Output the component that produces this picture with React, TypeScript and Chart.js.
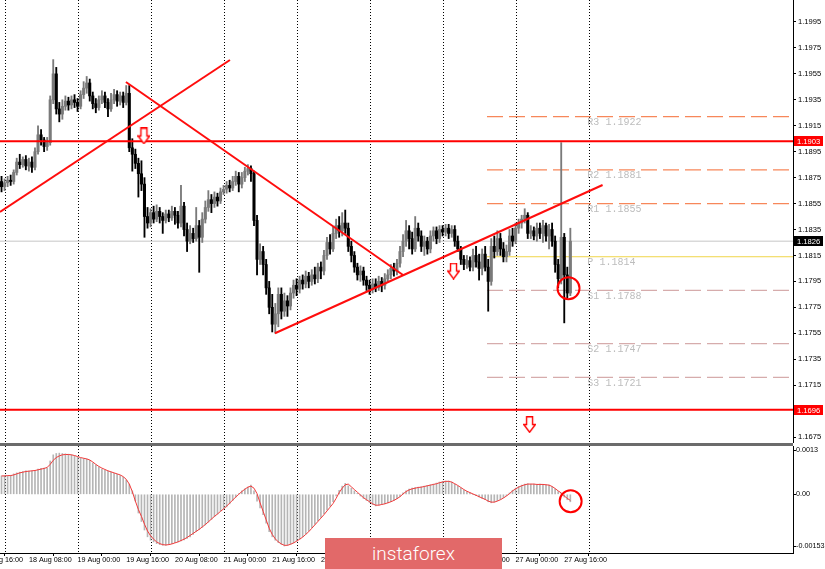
import { useEffect, useRef } from "react";
import { Chart, registerables } from "chart.js";
Chart.register(...registerables);

// ---------- DATA (EURUSD H1, 17 Aug 23:00 -> 27 Aug 18:00) ----------
const opens = [
  1.1872,1.1868,1.1871,1.1873,1.1872,1.1879,1.1887,1.1885,1.1889,1.1884,
  1.1887,1.1883,1.1895,1.1908,1.1904,1.1899,1.1902,1.1935,1.1955,1.1928,
  1.1924,1.1930,1.1934,1.1931,1.1935,1.1933,1.1930,1.1939,1.1944,1.1948,
  1.1938,1.1932,1.1929,1.1935,1.1938,1.1933,1.1928,1.1935,1.1939,1.1934,
  1.1938,1.1933,1.1940,1.1898,1.1893,1.1886,1.1878,1.1870,1.1845,1.1840,
  1.1848,1.1843,1.1849,1.1845,1.1842,1.1847,1.1844,1.1849,1.1846,1.1840,
  1.1853,1.1835,1.1826,1.1832,1.1828,1.1838,1.1829,1.1843,1.1852,1.1858,
  1.1855,1.1860,1.1857,1.1864,1.1866,1.1869,1.1867,1.1872,1.1876,1.1870,
  1.1875,1.1880,1.1882,1.1878,1.1842,1.1812,1.1818,1.1808,1.1790,1.1775,
  1.1762,1.1770,1.1785,1.1772,1.1780,1.1776,1.1786,1.1792,1.1789,1.1796,
  1.1793,1.1799,1.1795,1.1800,1.1797,1.1806,1.1803,1.1815,1.1825,1.1820,
  1.1832,1.1838,1.1834,1.1840,1.1836,1.1822,1.1815,1.1806,1.1800,1.1803,
  1.1796,1.1792,1.1789,1.1793,1.1790,1.1795,1.1792,1.1797,1.1800,1.1805,
  1.1803,1.1809,1.1818,1.1826,1.1834,1.1828,1.1820,1.1836,1.1830,1.1822,
  1.1826,1.1820,1.1830,1.1834,1.1828,1.1835,1.1833,1.1836,1.1832,1.1835,
  1.1826,1.1820,1.1812,1.1808,1.1811,1.1806,1.1815,1.1810,1.1805,1.1816,
  1.1806,1.1795,1.1822,1.1818,1.1828,1.1820,1.1814,1.1818,1.1830,1.1826,
  1.1836,1.1840,1.1843,1.1846,1.1832,1.1834,1.1830,1.1836,1.1832,1.1838,
  1.1830,1.1835,1.1826,1.1808,1.1797,1.1829,1.1800,1.1786,
];
const highs = [
  1.1876,1.1874,1.1876,1.1877,1.1881,1.1890,1.1893,1.1891,1.1892,1.1890,
  1.1891,1.1898,1.1915,1.1912,1.1906,1.1906,1.1938,1.1966,1.1960,1.1933,
  1.1935,1.1938,1.1937,1.1938,1.1939,1.1936,1.1942,1.1949,1.1953,1.1951,
  1.1941,1.1936,1.1938,1.1942,1.1941,1.1936,1.1940,1.1943,1.1942,1.1941,
  1.1941,1.1946,1.1946,1.1905,1.1897,1.1890,1.1888,1.1875,1.1852,1.1851,
  1.1853,1.1854,1.1852,1.1848,1.1850,1.1850,1.1853,1.1852,1.1849,1.1869,
  1.1856,1.1840,1.1838,1.1836,1.1852,1.1842,1.1848,1.1857,1.1865,1.1862,
  1.1864,1.1863,1.1867,1.1869,1.1872,1.1873,1.1876,1.1880,1.1879,1.1879,
  1.1883,1.1885,1.1884,1.1880,1.1846,1.1824,1.1822,1.1812,1.1795,1.1785,
  1.1778,1.1790,1.1790,1.1786,1.1784,1.1790,1.1796,1.1797,1.1799,1.1800,
  1.1803,1.1802,1.1804,1.1806,1.1809,1.1810,1.1819,1.1829,1.1831,1.1837,
  1.1843,1.1845,1.1848,1.1850,1.1840,1.1826,1.1818,1.1809,1.1807,1.1806,
  1.1799,1.1796,1.1797,1.1797,1.1799,1.1798,1.1801,1.1804,1.1808,1.1809,
  1.1812,1.1822,1.1831,1.1842,1.1838,1.1833,1.1845,1.1840,1.1834,1.1830,
  1.1829,1.1834,1.1837,1.1837,1.1838,1.1838,1.1839,1.1839,1.1838,1.1838,
  1.1830,1.1822,1.1815,1.1815,1.1814,1.1820,1.1822,1.1816,1.1820,1.1822,
  1.1812,1.1828,1.1830,1.1834,1.1832,1.1825,1.1823,1.1835,1.1836,1.1840,
  1.1843,1.1846,1.1851,1.1848,1.1838,1.1837,1.1840,1.1840,1.1842,1.1840,
  1.1839,1.1840,1.1830,1.1812,1.1902,1.1832,1.1806,1.1836,
];
const lows = [
  1.1864,1.1865,1.1868,1.1869,1.1870,1.1877,1.1882,1.1883,1.1881,1.1880,
  1.1879,1.1881,1.1893,1.1900,1.1895,1.1896,1.1900,1.1932,1.1924,1.1918,
  1.1920,1.1927,1.1927,1.1928,1.1929,1.1926,1.1928,1.1936,1.1940,1.1934,
  1.1928,1.1925,1.1927,1.1932,1.1929,1.1922,1.1926,1.1932,1.1930,1.1931,
  1.1929,1.1931,1.1895,1.1880,1.1882,1.1860,1.1865,1.1829,1.1836,1.1837,
  1.1840,1.1841,1.1840,1.1832,1.1840,1.1841,1.1842,1.1839,1.1836,1.1837,
  1.1830,1.1818,1.1824,1.1825,1.1826,1.1802,1.1825,1.1840,1.1849,1.1848,
  1.1852,1.1853,1.1855,1.1862,1.1863,1.1864,1.1865,1.1869,1.1864,1.1867,
  1.1872,1.1877,1.1872,1.1838,1.1800,1.1808,1.1800,1.1785,1.1770,1.1756,
  1.1755,1.1760,1.1766,1.1768,1.1768,1.1773,1.1782,1.1784,1.1786,1.1789,
  1.1790,1.1790,1.1792,1.1793,1.1794,1.1797,1.1800,1.1812,1.1816,1.1818,
  1.1828,1.1829,1.1830,1.1832,1.1818,1.1810,1.1802,1.1796,1.1795,1.1792,
  1.1788,1.1785,1.1786,1.1787,1.1788,1.1787,1.1789,1.1795,1.1797,1.1799,
  1.1800,1.1806,1.1814,1.1822,1.1820,1.1816,1.1818,1.1826,1.1818,1.1815,
  1.1816,1.1817,1.1826,1.1824,1.1825,1.1830,1.1830,1.1828,1.1829,1.1822,
  1.1818,1.1808,1.1804,1.1805,1.1803,1.1803,1.1806,1.1796,1.1800,1.1803,
  1.1772,1.1792,1.1813,1.1815,1.1815,1.1810,1.1810,1.1815,1.1822,1.1824,
  1.1832,1.1836,1.1840,1.1828,1.1828,1.1827,1.1826,1.1828,1.1825,1.1826,
  1.1820,1.1822,1.1802,1.1790,1.1793,1.1763,1.1782,1.1784,
];
const closes = [
  1.1868,1.1871,1.1873,1.1872,1.1879,1.1887,1.1885,1.1889,1.1884,1.1887,
  1.1883,1.1895,1.1908,1.1904,1.1899,1.1902,1.1935,1.1955,1.1928,1.1924,
  1.1930,1.1934,1.1931,1.1935,1.1933,1.1930,1.1939,1.1944,1.1948,1.1938,
  1.1932,1.1929,1.1935,1.1938,1.1933,1.1928,1.1935,1.1939,1.1934,1.1938,
  1.1933,1.1940,1.1898,1.1893,1.1886,1.1878,1.1870,1.1845,1.1840,1.1848,
  1.1843,1.1849,1.1845,1.1842,1.1847,1.1844,1.1849,1.1846,1.1840,1.1853,
  1.1835,1.1826,1.1832,1.1828,1.1838,1.1829,1.1843,1.1852,1.1858,1.1855,
  1.1860,1.1857,1.1864,1.1866,1.1869,1.1867,1.1872,1.1876,1.1870,1.1875,
  1.1880,1.1882,1.1878,1.1842,1.1812,1.1818,1.1808,1.1790,1.1775,1.1762,
  1.1770,1.1785,1.1772,1.1780,1.1776,1.1786,1.1792,1.1789,1.1796,1.1793,
  1.1799,1.1795,1.1800,1.1797,1.1806,1.1803,1.1815,1.1825,1.1820,1.1832,
  1.1838,1.1834,1.1840,1.1836,1.1822,1.1815,1.1806,1.1800,1.1803,1.1796,
  1.1792,1.1789,1.1793,1.1790,1.1795,1.1792,1.1797,1.1800,1.1805,1.1803,
  1.1809,1.1818,1.1826,1.1834,1.1828,1.1820,1.1836,1.1830,1.1822,1.1826,
  1.1820,1.1830,1.1834,1.1828,1.1835,1.1833,1.1836,1.1832,1.1835,1.1826,
  1.1820,1.1812,1.1808,1.1811,1.1806,1.1815,1.1810,1.1805,1.1816,1.1806,
  1.1795,1.1822,1.1818,1.1828,1.1820,1.1814,1.1818,1.1830,1.1826,1.1836,
  1.1840,1.1843,1.1846,1.1832,1.1834,1.1830,1.1836,1.1832,1.1838,1.1830,
  1.1835,1.1826,1.1808,1.1797,1.1829,1.1800,1.1786,1.1826,
];
const macdMain = [
  0.00054,0.00055,0.00054,0.00056,0.00060,0.00063,0.00065,0.00067,0.00069,0.00068,
  0.00069,0.00070,0.00074,0.00076,0.00077,0.00078,0.00098,0.00116,0.00120,0.00121,
  0.00120,0.00119,0.00118,0.00116,0.00113,0.00109,0.00106,0.00105,0.00104,0.00100,
  0.00092,0.00086,0.00080,0.00074,0.00071,0.00068,0.00065,0.00062,0.00059,0.00055,
  0.00050,0.00042,0.00030,0.00010,-0.00020,-0.00055,-0.00080,-0.00105,-0.00125,-0.00135,
  -0.00140,-0.00145,-0.00148,-0.00150,-0.00150,-0.00148,-0.00145,-0.00142,-0.00140,-0.00137,
  -0.00134,-0.00130,-0.00125,-0.00118,-0.00110,-0.00104,-0.00097,-0.00090,-0.00082,-0.00074,
  -0.00066,-0.00058,-0.00050,-0.00043,-0.00037,-0.00028,-0.00018,-0.00008,0.00002,0.00010,
  0.00016,0.00021,0.00027,0.00010,-0.00020,-0.00040,-0.00060,-0.00085,-0.00110,-0.00125,
  -0.00135,-0.00142,-0.00147,-0.00152,-0.00150,-0.00147,-0.00143,-0.00138,-0.00132,-0.00125,
  -0.00117,-0.00108,-0.00098,-0.00088,-0.00078,-0.00068,-0.00058,-0.00046,-0.00035,-0.00022,
  -0.00005,0.00012,0.00024,0.00032,0.00025,0.00018,0.00010,0.00003,-0.00005,-0.00012,
  -0.00018,-0.00024,-0.00030,-0.00034,-0.00032,-0.00030,-0.00028,-0.00025,-0.00022,-0.00018,
  -0.00013,-0.00006,0.00004,0.00010,0.00015,0.00018,0.00020,0.00021,0.00022,0.00024,
  0.00026,0.00028,0.00030,0.00033,0.00036,0.00038,0.00039,0.00039,0.00036,0.00030,
  0.00024,0.00018,0.00012,0.00008,0.00004,0.00000,-0.00004,-0.00008,-0.00012,-0.00016,
  -0.00022,-0.00025,-0.00023,-0.00019,-0.00015,-0.00010,-0.00004,0.00004,0.00012,0.00018,
  0.00023,0.00027,0.00030,0.00031,0.00030,0.00030,0.00029,0.00030,0.00029,0.00028,
  0.00027,0.00022,0.00015,0.00008,0.00004,-0.00008,-0.00016,-0.00022,
];
const macdSignal = [
  0.00054,0.00054,0.00055,0.00055,0.00057,0.00060,0.00063,0.00065,0.00067,0.00068,
  0.00069,0.00070,0.00072,0.00074,0.00076,0.00079,0.00088,0.00100,0.00108,0.00113,
  0.00116,0.00117,0.00117,0.00116,0.00114,0.00111,0.00108,0.00106,0.00104,0.00101,
  0.00095,0.00088,0.00082,0.00077,0.00073,0.00069,0.00066,0.00063,0.00060,0.00057,
  0.00052,0.00044,0.00030,0.00008,-0.00020,-0.00045,-0.00065,-0.00088,-0.00108,-0.00122,
  -0.00132,-0.00140,-0.00145,-0.00148,-0.00149,-0.00148,-0.00146,-0.00143,-0.00140,-0.00136,
  -0.00132,-0.00127,-0.00121,-0.00115,-0.00109,-0.00103,-0.00096,-0.00089,-0.00081,-0.00073,
  -0.00065,-0.00058,-0.00050,-0.00043,-0.00035,-0.00026,-0.00017,-0.00008,0.00000,0.00008,
  0.00015,0.00021,0.00024,0.00018,0.00002,-0.00025,-0.00050,-0.00075,-0.00100,-0.00118,
  -0.00131,-0.00140,-0.00146,-0.00150,-0.00150,-0.00147,-0.00143,-0.00138,-0.00132,-0.00126,
  -0.00118,-0.00110,-0.00100,-0.00090,-0.00080,-0.00070,-0.00060,-0.00049,-0.00038,-0.00027,
  -0.00012,0.00005,0.00018,0.00028,0.00030,0.00022,0.00014,0.00006,-0.00002,-0.00010,
  -0.00016,-0.00022,-0.00028,-0.00032,-0.00032,-0.00030,-0.00028,-0.00025,-0.00022,-0.00018,
  -0.00013,-0.00007,0.00001,0.00008,0.00013,0.00016,0.00018,0.00020,0.00021,0.00023,
  0.00025,0.00027,0.00029,0.00031,0.00034,0.00036,0.00038,0.00038,0.00036,0.00031,
  0.00026,0.00020,0.00014,0.00009,0.00005,0.00001,-0.00003,-0.00007,-0.00011,-0.00015,
  -0.00020,-0.00023,-0.00023,-0.00020,-0.00016,-0.00011,-0.00005,0.00002,0.00010,0.00016,
  0.00021,0.00025,0.00028,0.00030,0.00030,0.00030,0.00029,0.00029,0.00029,0.00028,
  0.00027,0.00023,0.00017,0.00010,0.00004,-0.00005,-0.00012,-0.00018,
];

// time axis
const xLabelIdx = [9, 25, 41, 57, 73, 89, 105, 121, 137, 153, 169, 185];
const xLabelText = ["18 Aug 08:00","19 Aug 00:00","19 Aug 16:00","20 Aug 08:00","21 Aug 00:00","21 Aug 16:00","24 Aug 08:00","25 Aug 00:00","25 Aug 16:00","26 Aug 08:00","27 Aug 00:00","27 Aug 16:00"];
const xPartialIdx = -7;
const xPartialText = "17 Aug 16:00";
const dayStartIdx = [1, 25, 49, 73, 97, 121, 145, 169, 193];

// price axis
const priceTicks = [1.1675,1.1695,1.1715,1.1735,1.1755,1.1775,1.1795,1.1815,1.1835,1.1855,1.1875,1.1895,1.1915,1.1935,1.1955,1.1975,1.1995];
const macdTicks = [0.0013, 0, -0.00153];
const macdTickText = ["0.0013", "0.00", "-0.00153"];

// levels
const resistanceLevel = 1.1903;
const supportLevel = 1.1696;
const lastPrice = 1.1826;
const pivotNames = ["R3", "R2", "R1", "P", "S1", "S2", "S3"];
const pivotValues = [1.1922, 1.1881, 1.1855, 1.1814, 1.1788, 1.1747, 1.1721];
const pivotStartIdx = 159.6;
const pivotLabelIdx = 192.6;

// trend lines
const trendStartIdx = [-0.5, 40.9, 89.9];
const trendStartPrice = [1.18485, 1.19487, 1.1755];
const trendEndIdx = [75.1, 132.0, 197.6];
const trendEndPrice = [1.19657, 1.17999, 1.18693];

// markers
const arrowIdx = [46.8, 148.6, 173.6];
const arrowPrice = [1.19071, 1.1803, 1.16846];
const circlePriceIdx = [186.4];
const circlePrice = [1.17897];
const circleMacdIdx = [187.1];
const circleMacd = [-0.000206];

// ---------- LAYOUT ----------
const X_MIN = -0.5;
const X_MAX = 260.2;
const P_MIN = 1.167038;
const P_MAX = 1.201196;
const M_MIN = -0.001726;
const M_MAX = 0.00142;
const AXIS_W = 32;
const FONT_FAMILY = '"Liberation Sans", Arial, sans-serif';
const Y_FONT = 7.6;
const X_FONT = 7.2;

function makeArrow() {
  const c = document.createElement("canvas");
  c.width = 13;
  c.height = 17;
  const g = c.getContext("2d") as CanvasRenderingContext2D;
  g.beginPath();
  g.moveTo(3.5, 0.75);
  g.lineTo(9.5, 0.75);
  g.lineTo(9.5, 8.5);
  g.lineTo(12.25, 8.5);
  g.lineTo(6.5, 16.2);
  g.lineTo(0.75, 8.5);
  g.lineTo(3.5, 8.5);
  g.closePath();
  g.fillStyle = "#ffffff";
  g.fill();
  g.strokeStyle = "#ff0000";
  g.lineWidth = 1.4;
  g.stroke();
  return c;
}

const hline = (y: number, x0: number, x1: number, color: string, width: number, dash: number[], order: number) => ({
  type: "line",
  data: [{ x: x0, y }, { x: x1, y }],
  borderColor: color,
  borderWidth: width,
  borderDash: dash,
  pointRadius: 0,
  fill: false,
  order,
});

const dayGrid = {
  id: "dayGrid",
  beforeDatasetsDraw(chart: any) {
    const { ctx, chartArea, scales } = chart;
    ctx.save();
    ctx.strokeStyle = "#000";
    ctx.lineWidth = 1;
    ctx.setLineDash([1, 2]);
    dayStartIdx.forEach((i) => {
      const x = Math.round(scales.x.getPixelForValue(i)) + 0.5;
      ctx.beginPath();
      ctx.moveTo(x, chartArea.top);
      ctx.lineTo(x, chartArea.bottom);
      ctx.stroke();
    });
    ctx.restore();
  },
};

export default function App() {
  const mainRef = useRef<HTMLCanvasElement | null>(null);
  const macdRef = useRef<HTMLCanvasElement | null>(null);

  useEffect(() => {
    const arrow = makeArrow();
    const idx = closes.map((_, i) => i);
    const candleColor = closes.map((c, i) => (c >= opens[i] ? "#7a7a7a" : "#000000"));
    const pivotColors = ["#f7875a", "#f7875a", "#f7875a", "#f0d64a", "#d6acac", "#d6acac", "#d6acac"];

    const mainOverlay = {
      id: "mainOverlay",
      afterDraw(chart: any) {
        const { ctx, scales } = chart;
        const ys = scales.y;
        ctx.save();
        ctx.font = '10px "Liberation Mono", "DejaVu Sans Mono", monospace';
        ctx.fillStyle = "#bdbdbd";
        ctx.textBaseline = "top";
        ctx.textAlign = "left";
        const px = scales.x.getPixelForValue(pivotLabelIdx);
        pivotNames.forEach((n, k) => {
          ctx.fillText(n + " " + pivotValues[k].toFixed(4), px, ys.getPixelForValue(pivotValues[k]) + 1);
        });
        const marks = [resistanceLevel, supportLevel, lastPrice];
        const markBg = ["#ff0000", "#ff0000", "#000000"];
        ctx.font = Y_FONT + "px " + FONT_FAMILY;
        ctx.textBaseline = "middle";
        marks.forEach((v, k) => {
          const y = Math.round(ys.getPixelForValue(v));
          ctx.fillStyle = markBg[k];
          ctx.fillRect(chart.chartArea.right + 1, y - 5, 29, 10);
          ctx.fillStyle = "#ffffff";
          ctx.fillText(v.toFixed(4), chart.chartArea.right + 4, y + 0.5);
        });
        ctx.restore();
      },
    };

    const mainChart = new Chart(mainRef.current as HTMLCanvasElement, {
      type: "bar",
      data: {
        datasets: [
          hline(lastPrice, X_MIN, X_MAX, "#c6c6c6", 1, [], 20),
          ...pivotValues.map((v, k) => hline(v, pivotStartIdx, X_MAX, pivotColors[k], k === 3 ? 1 : 1.3, k === 3 ? [] : [16, 6], 19)),
          {
            type: "bar",
            data: idx.map((i) => ({ x: i, y: [lows[i], highs[i]] })),
            backgroundColor: candleColor,
            barThickness: 1.2,
            grouped: false,
            order: 10,
          },
          {
            type: "bar",
            data: idx.map((i) => ({ x: i, y: [opens[i], closes[i]] })),
            backgroundColor: candleColor,
            barThickness: 2.4,
            minBarLength: 1,
            grouped: false,
            order: 9,
          },
          hline(resistanceLevel, X_MIN, X_MAX, "#ff0000", 2, [], 3),
          hline(supportLevel, X_MIN, X_MAX, "#ff0000", 2, [], 3),
          ...trendStartIdx.map((x0, k) => ({
            type: "line",
            data: [{ x: x0, y: trendStartPrice[k] }, { x: trendEndIdx[k], y: trendEndPrice[k] }],
            borderColor: "#ff0d0d",
            borderWidth: 2,
            pointRadius: 0,
            fill: false,
            order: 2,
          })),
          {
            type: "scatter",
            data: arrowIdx.map((x, k) => ({ x, y: arrowPrice[k] })),
            pointStyle: arrow,
            pointRadius: 8,
            order: 1,
          },
          {
            type: "scatter",
            data: circlePriceIdx.map((x, k) => ({ x, y: circlePrice[k] })),
            pointStyle: "circle",
            pointRadius: 11,
            borderWidth: 2,
            borderColor: "#ff0000",
            backgroundColor: "rgba(0,0,0,0)",
            order: 1,
          },
        ] as any,
      },
      options: {
        animation: false,
        responsive: false,
        maintainAspectRatio: false,
        events: [],
        layout: { padding: 0, autoPadding: false },
        plugins: { legend: { display: false }, tooltip: { enabled: false } },
        scales: {
          x: { type: "linear", min: X_MIN, max: X_MAX, display: false, offset: false },
          y: {
            type: "linear",
            position: "right",
            min: P_MIN,
            max: P_MAX,
            afterBuildTicks: (s: any) => {
              s.ticks = priceTicks.map((v) => ({ value: v }));
            },
            afterFit: (s: any) => {
              s.width = AXIS_W;
              s.paddingTop = 0;
              s.paddingBottom = 0;
            },
            ticks: {
              autoSkip: false,
              padding: 2,
              color: "#000",
              font: { family: FONT_FAMILY, size: Y_FONT },
              callback: (v: any) => Number(v).toFixed(4),
            },
            grid: { drawOnChartArea: false, drawTicks: true, tickLength: 3, color: "#000" },
            border: { display: true, color: "#000" },
          },
        },
      } as any,
      plugins: [dayGrid, mainOverlay],
    });

    const macdOverlay = {
      id: "macdOverlay",
      beforeDraw(chart: any) {
        const { ctx, chartArea } = chart;
        ctx.save();
        ctx.fillStyle = "#6b6b6b";
        ctx.fillRect(0, 0, chartArea.right, 3);
        ctx.restore();
      },
      afterDraw(chart: any) {
        const { ctx, chartArea, scales } = chart;
        ctx.save();
        ctx.font = X_FONT + "px " + FONT_FAMILY;
        ctx.fillStyle = "#000";
        ctx.textBaseline = "top";
        ctx.textAlign = "left";
        ctx.fillText(xPartialText, scales.x.getPixelForValue(xPartialIdx), chartArea.bottom + 3);
        ctx.restore();
      },
    };

    const macdChart = new Chart(macdRef.current as HTMLCanvasElement, {
      type: "bar",
      data: {
        datasets: [
          {
            type: "bar",
            data: idx.map((i) => ({ x: i, y: macdMain[i] })),
            backgroundColor: "#b5b5b5",
            barThickness: 1,
            grouped: false,
            order: 5,
          },
          {
            type: "line",
            data: idx.map((i) => ({ x: i, y: macdSignal[i] })),
            borderColor: "#f23a3a",
            borderWidth: 1,
            pointRadius: 0,
            fill: false,
            order: 2,
          },
          {
            type: "scatter",
            data: circleMacdIdx.map((x, k) => ({ x, y: circleMacd[k] })),
            pointStyle: "circle",
            pointRadius: 11,
            borderWidth: 2,
            borderColor: "#ff0000",
            backgroundColor: "rgba(0,0,0,0)",
            order: 1,
          },
        ] as any,
      },
      options: {
        animation: false,
        responsive: false,
        maintainAspectRatio: false,
        events: [],
        layout: { padding: { top: 3, left: 0, right: 0, bottom: 0 }, autoPadding: false },
        plugins: { legend: { display: false }, tooltip: { enabled: false } },
        scales: {
          x: {
            type: "linear",
            position: "bottom",
            min: X_MIN,
            max: X_MAX,
            offset: false,
            afterBuildTicks: (s: any) => {
              s.ticks = xLabelIdx.map((v) => ({ value: v }));
            },
            afterFit: (s: any) => {
              s.height = 16;
              s.paddingLeft = 0;
              s.paddingRight = 0;
            },
            ticks: {
              autoSkip: false,
              maxRotation: 0,
              minRotation: 0,
              align: "start",
              padding: 0,
              color: "#000",
              font: { family: FONT_FAMILY, size: X_FONT },
              callback: (v: any) => {
                const k = xLabelIdx.indexOf(Number(v));
                return k >= 0 ? xLabelText[k] : "";
              },
            },
            grid: { drawOnChartArea: false, drawTicks: true, tickLength: 3, color: "#000" },
            border: { display: true, color: "#000" },
          },
          y: {
            type: "linear",
            position: "right",
            min: M_MIN,
            max: M_MAX,
            afterBuildTicks: (s: any) => {
              s.ticks = macdTicks.map((v) => ({ value: v }));
            },
            afterFit: (s: any) => {
              s.width = AXIS_W;
              s.paddingTop = 0;
              s.paddingBottom = 0;
            },
            ticks: {
              autoSkip: false,
              padding: 0,
              color: "#000",
              font: { family: FONT_FAMILY, size: X_FONT },
              callback: (v: any) => {
                const k = macdTicks.indexOf(Number(v));
                return k >= 0 ? macdTickText[k] : "";
              },
            },
            grid: { drawOnChartArea: false, drawTicks: true, tickLength: 3, color: "#000" },
            border: { display: true, color: "#000" },
          },
        },
      } as any,
      plugins: [dayGrid, macdOverlay],
    });

    return () => {
      mainChart.destroy();
      macdChart.destroy();
    };
  }, []);

  return (
    <div style={{ position: "fixed", left: 0, top: 0, width: 825, height: 569, background: "#fff", overflow: "hidden" }}>
      <canvas ref={mainRef} width={825} height={443} style={{ position: "absolute", left: 0, top: 0, width: 825, height: 443 }} />
      <canvas ref={macdRef} width={825} height={126} style={{ position: "absolute", left: 0, top: 443, width: 825, height: 126 }} />
      <div
        style={{
          position: "absolute",
          left: 325,
          top: 538,
          width: 177,
          height: 31,
          background: "#e26969",
          color: "#ffffff",
          fontFamily: "Roboto, 'Open Sans', sans-serif",
          fontWeight: 300,
          fontSize: 19,
          lineHeight: "31px",
          textAlign: "center",
        }}
      >
        instaforex
      </div>
    </div>
  );
}
